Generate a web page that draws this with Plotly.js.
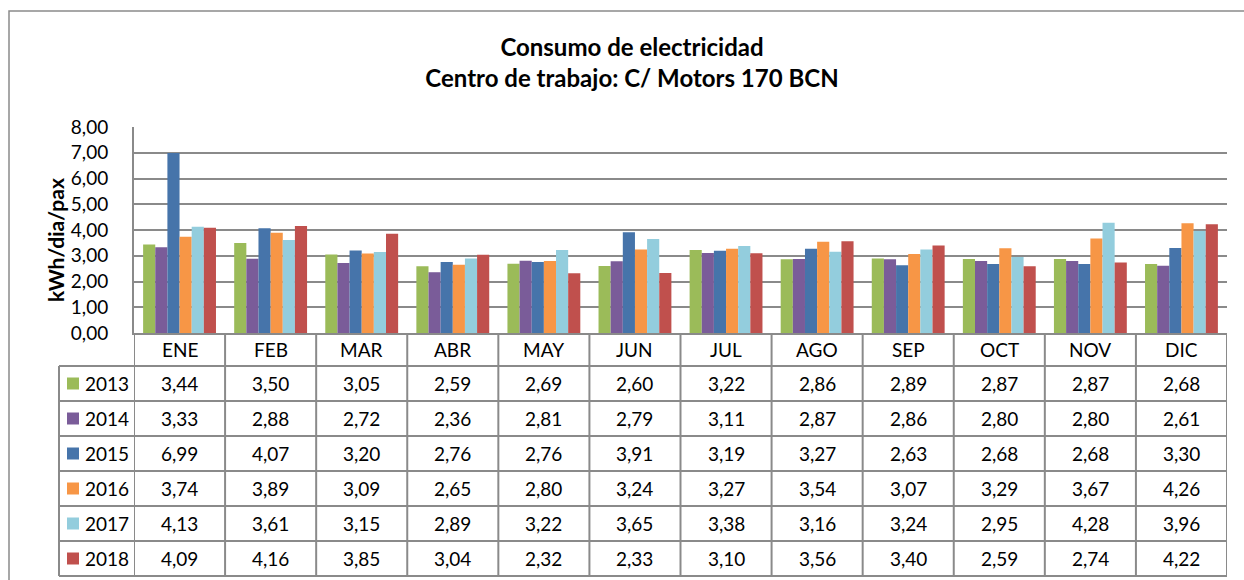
<!DOCTYPE html>
<html>
<head>
<meta charset="utf-8">
<script src="https://cdn.plot.ly/plotly-3.0.1.min.js"></script>
<style>html,body{margin:0;padding:0;background:#fff;}#chart{width:1244px;height:580px;}</style>
</head>
<body>
<div id="chart"></div>
<script>
const months = ['ENE','FEB','MAR','ABR','MAY','JUN','JUL','AGO','SEP','OCT','NOV','DIC'];
const years = ['2013','2014','2015','2016','2017','2018'];
const v2013 = [3.44,3.50,3.05,2.59,2.69,2.60,3.22,2.86,2.89,2.87,2.87,2.68];
const v2014 = [3.33,2.88,2.72,2.36,2.81,2.79,3.11,2.87,2.86,2.80,2.80,2.61];
const v2015 = [6.99,4.07,3.20,2.76,2.76,3.91,3.19,3.27,2.63,2.68,2.68,3.30];
const v2016 = [3.74,3.89,3.09,2.65,2.80,3.24,3.27,3.54,3.07,3.29,3.67,4.26];
const v2017 = [4.13,3.61,3.15,2.89,3.22,3.65,3.38,3.16,3.24,2.95,4.28,3.96];
const v2018 = [4.09,4.16,3.85,3.04,2.32,2.33,3.10,3.56,3.40,2.59,2.74,4.22];
const colors = ['#9BBB59','#7A5C99','#4674AA','#F79646','#93CDDD','#C0504D'];
const series = [v2013,v2014,v2015,v2016,v2017,v2018];

const W = 1244, H = 580;
const M = {l:134, r:17, t:127, b:247};
const pw = W - M.l - M.r, ph = H - M.t - M.b;
const px = x => (x - M.l) / pw;
const py = y => (H - M.b - y) / ph;
const FONT = 'Lato, Carlito, "Open Sans", sans-serif';
const GRID = '#8a8a8a';
const TXT = 19;
const fmt = v => v.toFixed(2).replace('.', ',');

const traces = series.map((s, j) => ({
  type: 'bar', name: years[j], x: months, y: s,
  marker: {color: colors[j], line: {width: 0}},
  hoverinfo: 'x+y+name'
}));

const headerTop = 333, headerBot = 366, rowH = 35, legLeft = 59;
const tableBot = headerBot + rowH * years.length;
const shapes = [];
// outer chart frame
shapes.push({type:'rect', xref:'paper', yref:'paper', x0:px(9), x1:px(1270), y0:py(11), y1:py(610),
  line:{color:GRID, width:1.5}, fillcolor:'rgba(0,0,0,0)', layer:'below'});
// table vertical lines
for (let i = 0; i <= months.length; i++) {
  shapes.push({type:'line', xref:'x', yref:'paper', x0:i-0.5, x1:i-0.5, y0:py(headerTop), y1:py(tableBot),
    line:{color:GRID, width:2}});
}
shapes.push({type:'line', xref:'paper', yref:'paper', x0:px(legLeft), x1:px(legLeft), y0:py(headerBot), y1:py(tableBot),
  line:{color:GRID, width:2}});
// table horizontal lines
for (let k = 0; k <= years.length; k++) {
  const y = headerBot + rowH * k;
  shapes.push({type:'line', xref:'paper', yref:'paper', x0:px(legLeft), x1:px(W - M.r), y0:py(y), y1:py(y),
    line:{color:GRID, width:2}});
}
// legend keys
years.forEach((yr, j) => {
  const cy = headerBot + rowH * j + rowH / 2;
  shapes.push({type:'rect', xref:'paper', yref:'paper', x0:px(67), x1:px(79), y0:py(cy - 6), y1:py(cy + 6),
    line:{width:0}, fillcolor:colors[j]});
});

const annotations = [];
months.forEach(m => annotations.push({xref:'x', yref:'paper', x:m, y:py((headerTop + headerBot) / 2),
  text:m, showarrow:false, xanchor:'center', yanchor:'middle', font:{family:FONT, size:TXT, color:'#000'}}));
series.forEach((s, j) => {
  const cy = headerBot + rowH * j + rowH / 2;
  annotations.push({xref:'paper', yref:'paper', x:px(83), y:py(cy), text:years[j], showarrow:false,
    xanchor:'left', yanchor:'middle', font:{family:FONT, size:TXT, color:'#000'}});
  s.forEach((v, i) => annotations.push({xref:'x', yref:'paper', x:months[i], y:py(cy), text:fmt(v),
    showarrow:false, xanchor:'center', yanchor:'middle', font:{family:FONT, size:TXT, color:'#000'}}));
});
annotations.push({xref:'paper', yref:'paper', x:px(55), y:py(240), text:'<b>kWh/dia/pax</b>', textangle:-90,
  showarrow:false, xanchor:'center', yanchor:'middle', font:{family:FONT, size:21, color:'#000'}});

const layout = {
  width: W, height: H, margin: M,
  paper_bgcolor:'#fff', plot_bgcolor:'#fff',
  separators: ',.',
  showlegend: false,
  barmode: 'group', bargap: 0.2, bargroupgap: 0,
  title: {text:'<b>Consumo de electricidad</b><br><b>Centro de trabajo: C/ Motors 170 BCN</b>',
    x: 632 / W, xref:'container', xanchor:'center', y: 1 - 56 / H, yref:'container', yanchor:'top',
    font:{family:FONT, size:24, color:'#000'}},
  xaxis: {type:'category', range:[-0.5, 11.5], showticklabels:false, ticks:'', showgrid:false,
    showline:true, linecolor:GRID, linewidth:2, zeroline:false, fixedrange:true},
  yaxis: {range:[0, 8], dtick:1, tickformat:'.2f', showgrid:true, gridcolor:GRID, gridwidth:1.5,
    showline:true, linecolor:GRID, linewidth:2, zeroline:false, ticks:'', ticklabelstandoff:20,
    tickfont:{family:FONT, size:TXT, color:'#000'}, fixedrange:true},
  shapes: shapes,
  annotations: annotations
};

Plotly.newPlot('chart', traces, layout, {displayModeBar:false, staticPlot:false});
</script>
</body>
</html>
